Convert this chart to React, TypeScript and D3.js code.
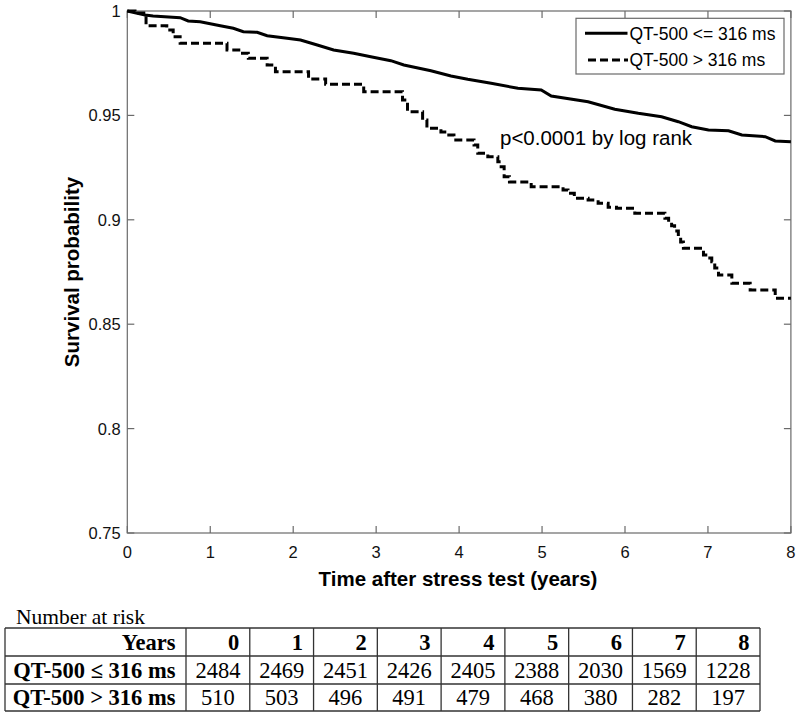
import React from "react";
import * as d3 from "d3";

// ---- Data ----
const xTicks = [0, 1, 2, 3, 4, 5, 6, 7, 8];
const yTicks = [0.75, 0.8, 0.85, 0.9, 0.95, 1];
const yTickLabels = ["0.75", "0.8", "0.85", "0.9", "0.95", "1"];

// QT-500 <= 316 ms (solid)
const lowTimes = [0, 0.214, 0.311, 0.637, 0.734, 0.879, 1.121, 1.278, 1.399, 1.565, 1.686, 1.927, 2.088, 2.29, 2.487, 2.729, 2.935, 3.177, 3.334, 3.66, 3.902, 4.104, 4.386, 4.709, 4.99, 5.111, 5.555, 5.877, 6.16, 6.441, 6.643, 6.804, 7.006, 7.248, 7.409, 7.69, 7.811, 8];
const lowSurv = [1, 0.99808, 0.99761, 0.99679, 0.99521, 0.99488, 0.99296, 0.99171, 0.99009, 0.9898, 0.98817, 0.98693, 0.98611, 0.98372, 0.98132, 0.97974, 0.97811, 0.9762, 0.97414, 0.97141, 0.96887, 0.96729, 0.96537, 0.96298, 0.96216, 0.95929, 0.95656, 0.95292, 0.951, 0.94938, 0.94698, 0.94459, 0.94301, 0.94267, 0.94061, 0.9398, 0.93774, 0.9374];

// QT-500 > 316 ms (dashed)
const highTimes = [0, 0.093, 0.226, 0.476, 0.553, 0.637, 1.202, 1.363, 1.459, 1.686, 1.786, 2.185, 2.391, 2.85, 3.318, 3.378, 3.56, 3.612, 3.781, 3.854, 3.938, 4.18, 4.225, 4.346, 4.467, 4.507, 4.543, 4.607, 4.869, 5.253, 5.313, 5.389, 5.555, 5.676, 5.797, 5.897, 6.118, 6.481, 6.526, 6.562, 6.598, 6.643, 6.671, 6.704, 6.946, 6.998, 7.046, 7.082, 7.127, 7.288, 7.509, 7.811, 8];
const highSurv = [1, 0.99904, 0.99296, 0.9909, 0.98769, 0.98453, 0.98132, 0.97974, 0.97735, 0.97414, 0.97093, 0.96743, 0.96489, 0.96135, 0.95738, 0.95177, 0.9478, 0.94382, 0.94205, 0.94061, 0.93822, 0.93582, 0.93185, 0.93022, 0.92783, 0.92543, 0.92064, 0.9181, 0.91585, 0.91427, 0.91269, 0.9103, 0.90948, 0.9079, 0.90598, 0.90551, 0.90311, 0.90072, 0.89895, 0.89718, 0.89464, 0.89191, 0.88937, 0.88635, 0.88314, 0.88171, 0.87993, 0.87692, 0.87356, 0.86959, 0.86638, 0.8624, 0.8624];

const seriesNames = ["QT-500 <= 316 ms", "QT-500 > 316 ms"];
const tableYears = ["0", "1", "2", "3", "4", "5", "6", "7", "8"];
const tableRowLabels = ["QT-500 \u2264 316 ms", "QT-500 > 316 ms"];
const riskLow = [2484, 2469, 2451, 2426, 2405, 2388, 2030, 1569, 1228];
const riskHigh = [510, 503, 496, 491, 479, 468, 380, 282, 197];

const SANS = "'Liberation Sans', Arial, sans-serif";
const SERIF = "'Liberation Serif', 'Times New Roman', serif";

export default function App() {
  const x = d3.scaleLinear().domain([0, 8]).range([127.3, 790.9]);
  const y = d3.scaleLinear().domain([0.75, 1]).range([533, 11]);
  const [x0, x1] = x.range();
  const [yb, yt] = y.range();

  const lowData = lowTimes.map((t, i) => [t, lowSurv[i]] as [number, number]);
  const highData = highTimes.map((t, i) => [t, highSurv[i]] as [number, number]);

  const lineLow = d3.line<[number, number]>().x(d => x(d[0])).y(d => y(d[1])).curve(d3.curveLinear);
  const lineHigh = d3.line<[number, number]>().x(d => x(d[0])).y(d => y(d[1])).curve(d3.curveStepAfter);

  const axisColor = "#6a6a6a";
  const tickLen = 7;
  const tickFont = 16.5;

  // table geometry
  const tLeft = 5, tRight = 760, labelRight = 186;
  const rowsY = [628, 656, 684, 711];
  const colW = (tRight - labelRight) / tableYears.length;
  const colX = d3.range(tableYears.length + 1).map(i => labelRight + i * colW);
  const tableFont = 22.5;

  return (
    <svg width={800} height={716} style={{ position: "absolute", left: 0, top: 0, background: "#fff" }}>
      <rect x={0} y={0} width={800} height={716} fill="#fff" />
      {/* axes box */}
      <rect x={x0} y={yt} width={x1 - x0} height={yb - yt} fill="none" stroke={axisColor} strokeWidth={1.2} />
      {xTicks.map(t => (
        <g key={"xt" + t}>
          <line x1={x(t)} x2={x(t)} y1={yb} y2={yb - tickLen} stroke={axisColor} strokeWidth={1.2} />
          <line x1={x(t)} x2={x(t)} y1={yt} y2={yt + tickLen} stroke={axisColor} strokeWidth={1.2} />
          <text x={x(t)} y={557.5} textAnchor="middle" fontFamily={SANS} fontSize={tickFont} fill="#111">{t}</text>
        </g>
      ))}
      {yTicks.map((v, i) => (
        <g key={"yt" + v}>
          <line x1={x0} x2={x0 + tickLen} y1={y(v)} y2={y(v)} stroke={axisColor} strokeWidth={1.2} />
          <line x1={x1} x2={x1 - tickLen} y1={y(v)} y2={y(v)} stroke={axisColor} strokeWidth={1.2} />
          <text x={120.7} y={y(v) + 6} textAnchor="end" fontFamily={SANS} fontSize={tickFont} fill="#111">{yTickLabels[i]}</text>
        </g>
      ))}

      {/* curves */}
      <path d={lineLow(lowData) || ""} fill="none" stroke="#000" strokeWidth={3} strokeLinejoin="miter" />
      <path d={lineHigh(highData) || ""} fill="none" stroke="#000" strokeWidth={3} strokeDasharray="8,4" />

      {/* axis labels */}
      <text x={458} y={585.7} textAnchor="middle" fontFamily={SANS} fontWeight="bold" fontSize={20.5} fill="#000">Time after stress test (years)</text>
      <text transform="translate(79,272) rotate(-90)" textAnchor="middle" fontFamily={SANS} fontWeight="bold" fontSize={20.5} fill="#000">Survival probability</text>

      {/* p-value */}
      <text x={500} y={145} fontFamily={SANS} fontSize={20.5} fill="#000">p&lt;0.0001 by log rank</text>

      {/* legend */}
      <rect x={576} y={18.3} width={208} height={55.7} fill="#fff" stroke={axisColor} strokeWidth={1.2} />
      <line x1={585} x2={627.5} y1={33.3} y2={33.3} stroke="#000" strokeWidth={3} />
      <line x1={588} x2={628} y1={60} y2={60} stroke="#000" strokeWidth={3} strokeDasharray="8,4" />
      <text x={629.5} y={39.5} fontFamily={SANS} fontSize={17.5} fill="#000">{seriesNames[0]}</text>
      <text x={629.5} y={66.2} fontFamily={SANS} fontSize={17.5} fill="#000">{seriesNames[1]}</text>

      {/* number at risk table */}
      <text x={16} y={624} fontFamily={SERIF} fontSize={21.5} fill="#000">Number at risk</text>
      {rowsY.map((ry, i) => (
        <line key={"hr" + i} x1={tLeft} x2={tRight} y1={ry} y2={ry} stroke="#333" strokeWidth={1.3} />
      ))}
      <line x1={tLeft} x2={tLeft} y1={rowsY[0]} y2={rowsY[3]} stroke="#333" strokeWidth={1.3} />
      {colX.map((cx, i) => (
        <line key={"vc" + i} x1={cx} x2={cx} y1={rowsY[0]} y2={rowsY[3]} stroke="#333" strokeWidth={1.3} />
      ))}
      <text x={labelRight - 10.5} y={650} textAnchor="end" fontFamily={SERIF} fontWeight="bold" fontSize={tableFont} fill="#000">Years</text>
      {tableYears.map((yr, i) => (
        <text key={"hy" + i} x={colX[i + 1] - 10.5} y={650} textAnchor="end" fontFamily={SERIF} fontWeight="bold" fontSize={tableFont} fill="#000">{yr}</text>
      ))}
      <text x={labelRight - 10.5} y={677.7} textAnchor="end" fontFamily={SERIF} fontWeight="bold" fontSize={tableFont} fill="#000">{tableRowLabels[0]}</text>
      <text x={labelRight - 10.5} y={705} textAnchor="end" fontFamily={SERIF} fontWeight="bold" fontSize={tableFont} fill="#000">{tableRowLabels[1]}</text>
      {riskLow.map((v, i) => (
        <text key={"rl" + i} x={(colX[i] + colX[i + 1]) / 2} y={677.7} textAnchor="middle" fontFamily={SERIF} fontSize={tableFont} fill="#000">{v}</text>
      ))}
      {riskHigh.map((v, i) => (
        <text key={"rh" + i} x={(colX[i] + colX[i + 1]) / 2} y={705} textAnchor="middle" fontFamily={SERIF} fontSize={tableFont} fill="#000">{v}</text>
      ))}
    </svg>
  );
}
